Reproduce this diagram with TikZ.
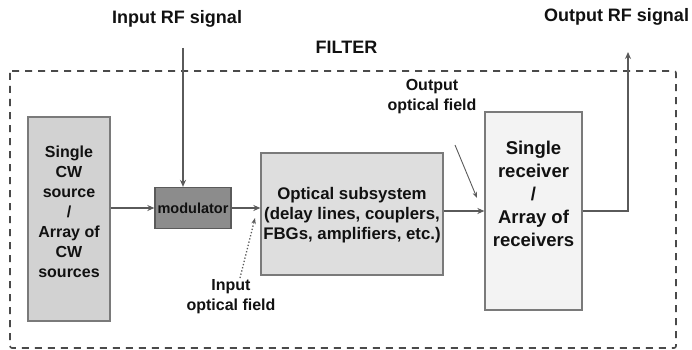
\documentclass[tikz,border=0pt]{standalone}
\usepackage{fontspec}
\setmainfont{Liberation Sans}
\usetikzlibrary{arrows.meta,calc}
\definecolor{frameC}{HTML}{4A4A4A}
\definecolor{lineC}{HTML}{5A5A5A}
\definecolor{borderC}{HTML}{7A7A7A}
\definecolor{srcF}{HTML}{D2D2D2}
\definecolor{modF}{HTML}{8C8C8C}
\definecolor{optF}{HTML}{DEDEDE}
\definecolor{recF}{HTML}{F3F3F3}
\definecolor{txtC}{HTML}{111111}
\tikzset{
  blk/.style={draw=borderC,line width=1.3pt,inner sep=0pt},
  conn/.style={draw=lineC,line width=1.6pt,-{Stealth[length=7pt,width=6pt]}},
  head/.style={font=\fontsize{18}{20}\selectfont\bfseries,text=txtC,inner sep=0pt},
  lbl/.style={font=\fontsize{16}{20}\selectfont\bfseries,text=txtC,align=center,inner sep=0pt},
  rlbl/.style={font=\fontsize{18.5}{23}\selectfont\bfseries,text=txtC,align=center,inner sep=0pt},
  frame/.style={draw=frameC,line width=1.6pt,dash pattern=on 7pt off 6pt,rounded corners=2pt}
}
\begin{document}
\begin{tikzpicture}[x=1pt,y=-1pt]
\useasboundingbox (0,0) rectangle (692,350);
% frame
\draw[frame] (10,71) rectangle (676,348);
% boxes
\node[blk,fill=srcF,minimum width=82pt,minimum height=204pt] (src) at (69,219) {};
\node[lbl] (srct) at (69,212) {Single\\CW\\source\\/\\Array of\\CW\\sources};
\node[blk,fill=modF,draw=lineC,minimum width=76pt,minimum height=41pt,
      font=\fontsize{14.5}{16}\selectfont\bfseries,text=txtC] (mod) at (193,208) {modulator};
\node[blk,fill=optF,minimum width=182pt,minimum height=122pt] (opt) at (352,214) {};
\node[lbl,font=\fontsize{16.8}{20}\selectfont\bfseries] (optt) at (352,215) {Optical subsystem\\(delay lines, couplers,\\FBGs, amplifiers, etc.)};
\node[blk,fill=recF,minimum width=97pt,minimum height=198pt] (rec) at (533.5,211) {};
\node[rlbl] (rect) at (533.5,194) {Single\\receiver\\/\\Array of\\receivers};
% headings
\node[head] (inrf) at (177,19) {Input RF signal};
\node[head] (filt) at (346.5,47) {FILTER};
\node[head] (outrf) at (616.5,17) {Output RF signal};
\node[lbl] (oof) at (432,96.5) {Output\\optical field};
\node[lbl] (iof) at (231,296.5) {Input\\optical field};
% coordinates
\coordinate (rfin) at (183,48);
\coordinate (rfout) at (628,52);
\coordinate (oofs) at (455,145);
\coordinate (oofe) at (477,198);
\coordinate (iofs) at (240,278);
\coordinate (iofe) at (255,218);
% connectors
\draw[conn] (rfin) -- (rfin |- mod.north);
\draw[conn] (src.east |- mod.west) -- (mod.west);
\draw[conn] (mod.east) -- (opt.west |- mod.east);
\draw[conn] (opt.east |- rec.west) -- (rec.west);
\draw[conn] (rec.east) -| (rfout);
\draw[draw=lineC,line width=0.9pt,-{Stealth[length=6pt,width=4.5pt]}] (oofs) -- (oofe);
\draw[draw=lineC,line width=1.3pt,dotted,-{Stealth[length=6pt,width=4.5pt]}] (iofs) -- (iofe);
\end{tikzpicture}
\end{document}
